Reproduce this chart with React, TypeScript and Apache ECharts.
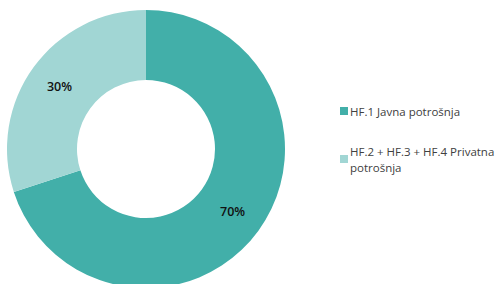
import React, { useEffect, useRef } from "react";
import * as echarts from "echarts";

const categories = ["HF.1 Javna potrošnja", "HF.2 + HF.3 + HF.4 Privatna\npotrošnja"];
const values = [70, 30];
const colors = ["#42AFA9", "#A1D6D4"];

export default function App() {
  const ref = useRef<HTMLDivElement>(null);
  useEffect(() => {
    document.body.style.margin = "0";
    const chart = echarts.init(ref.current!, null, { renderer: "svg" });
    const font = "Open Sans";
    const legendText = { fontFamily: font, fontSize: 11.5, color: "#404040", lineHeight: 16 };
    chart.setOption({
      animation: false,
      color: colors,
      legend: [
        {
          data: [categories[0]],
          orient: "vertical",
          left: 340,
          top: 103,
          padding: 0,
          itemWidth: 8,
          itemHeight: 8,
          itemGap: 0,
          icon: "rect",
          textStyle: { ...legendText, padding: [0, 0, 0, -3] },
          selectedMode: false,
        },
        {
          data: [categories[1]],
          orient: "vertical",
          left: 340,
          top: 135,
          padding: 0,
          itemWidth: 8,
          itemHeight: 8,
          itemGap: 0,
          icon: "rect",
          textStyle: { ...legendText, padding: [16, 0, 0, -3] },
          selectedMode: false,
        },
      ],
      series: [
        {
          type: "pie",
          center: [146, 149],
          radius: [69, 139],
          startAngle: 90,
          clockwise: true,
          label: {
            show: true,
            position: "inside",
            formatter: (p: any) => `${p.value}%`,
            color: "#111",
            fontFamily: font,
            fontWeight: 600,
            fontSize: 12.5,
          },
          labelLine: { show: false },
          emphasis: { disabled: true },
          data: categories.map((c, i) => ({ name: c, value: values[i] })),
        },
      ],
    });
    return () => chart.dispose();
  }, []);
  return <div ref={ref} style={{ width: 496, height: 284 }} />;
}
